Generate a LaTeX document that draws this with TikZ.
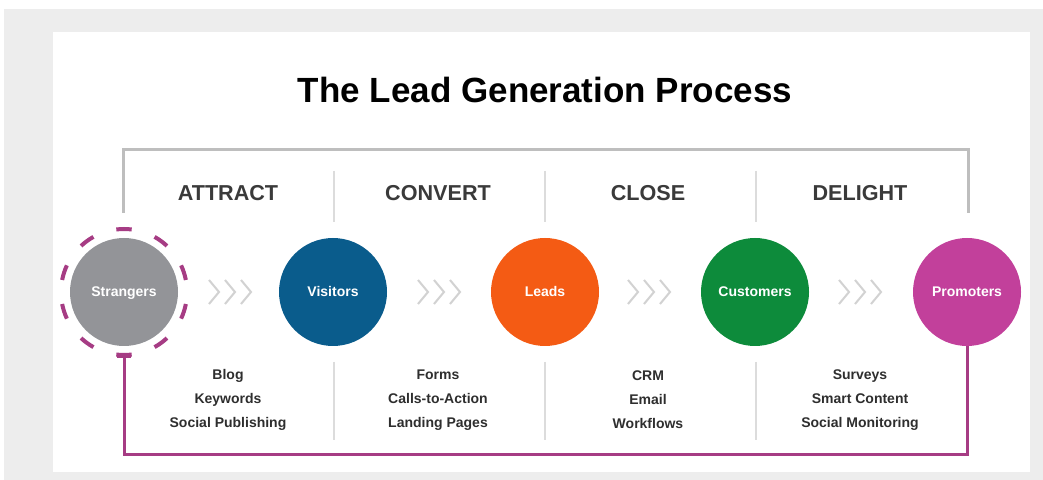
\documentclass[tikz,border=0pt]{standalone}
\usepackage{fontspec}
\setmainfont{Liberation Sans}
\usetikzlibrary{arrows.meta}
\definecolor{panelgrey}{HTML}{EDEDED}
\definecolor{bracketgrey}{HTML}{BEBEBE}
\definecolor{sepgrey}{HTML}{DCDCDC}
\definecolor{chevgrey}{HTML}{D2D2D2}
\definecolor{textgrey}{HTML}{2E2E2E}
\definecolor{stagegrey}{HTML}{3A3A3A}
\definecolor{strangergrey}{HTML}{939498}
\definecolor{visitorblue}{HTML}{0A5C8C}
\definecolor{leadorange}{HTML}{F45B14}
\definecolor{customergreen}{HTML}{0D8B3B}
\definecolor{promotermagenta}{HTML}{C2409B}
\definecolor{loopmagenta}{HTML}{A63C84}

\begin{document}
\begin{tikzpicture}[x=0.5pt,y=-0.5pt,
		stage/.style={text=stagegrey,font=\bfseries\fontsize{10.8}{13}\selectfont},
		tool/.style={text=textgrey,font=\bfseries\fontsize{7}{12}\selectfont,align=center},
		circ/.style={circle,minimum size=54pt,inner sep=0pt,text height=5pt,text depth=0pt,text=white,font=\bfseries\fontsize{7}{8}\selectfont},
		sep/.style={sepgrey,line width=0.6pt},
		chev/.style={chevgrey,line width=1pt},
		returnline/.style={loopmagenta,line width=1.5pt}]
		\useasboundingbox (0,0) rectangle (1043,480);
		\fill[panelgrey] (4,9) rectangle (1043,480);
		\fill[white] (53,32) rectangle (1030,472);
		
		\node[text=black,font=\bfseries\fontsize{17.5}{20}\selectfont] (title) at (545,90) {The Lead Generation Process};
		
		% bracket and stages
		\draw[bracketgrey,line width=1.5pt] (123,213) -- (123,150) -- (968,150) -- (968,213);
		\foreach \name/\txt/\x in {attract/ATTRACT/228,convert/CONVERT/438,close/CLOSE/648,delight/DELIGHT/860}{
			\node[stage] (\name) at (\x,193) {\txt};
		}
		\foreach \x in {334,545,756}{
			\draw[sep] (\x,171) -- (\x,222);
			\draw[sep] (\x,362) -- (\x,440);
		}
		
		% circles
		\foreach \name/\txt/\col/\x in {strangers/Strangers/strangergrey/124,visitors/Visitors/visitorblue/333,leads/Leads/leadorange/545,customers/Customers/customergreen/755,promoters/Promoters/promotermagenta/967}{
			\node[circ,fill=\col] (\name) at (\x,292) {\txt};
		}
		\foreach \a in {90,126,...,414}{
			\draw[loopmagenta,line width=2pt] ([shift={(\a-7:31.5pt)}]strangers.center) arc[start angle=\a-7,end angle=\a+7,radius=31.5pt];
		}
		
		% chevrons
		\foreach \cx in {230,439,649,860}{
			\foreach \dx in {-16,0,16}{
				\draw[chev] (\cx+\dx-5,280) -- (\cx+\dx+5,292) -- (\cx+\dx-5,304);
			}
		}
		
		% tools
		\node[tool] (blog) at (228,400) {Blog\\Keywords\\Social Publishing};
		\node[tool] (forms) at (438,400) {Forms\\Calls-to-Action\\Landing Pages};
		\node[tool] (crm) at (648,400) {CRM\\Email\\Workflows};
		\node[tool] (surveys) at (860,400) {Surveys\\Smart Content\\Social Monitoring};
		
		% return line
		\coordinate (loopend) at (124,355);
		\draw[returnline,-{Bar[width=7pt]}] (promoters.south) -- ++(0,108) -| (loopend);
	\end{tikzpicture}
\end{document}
